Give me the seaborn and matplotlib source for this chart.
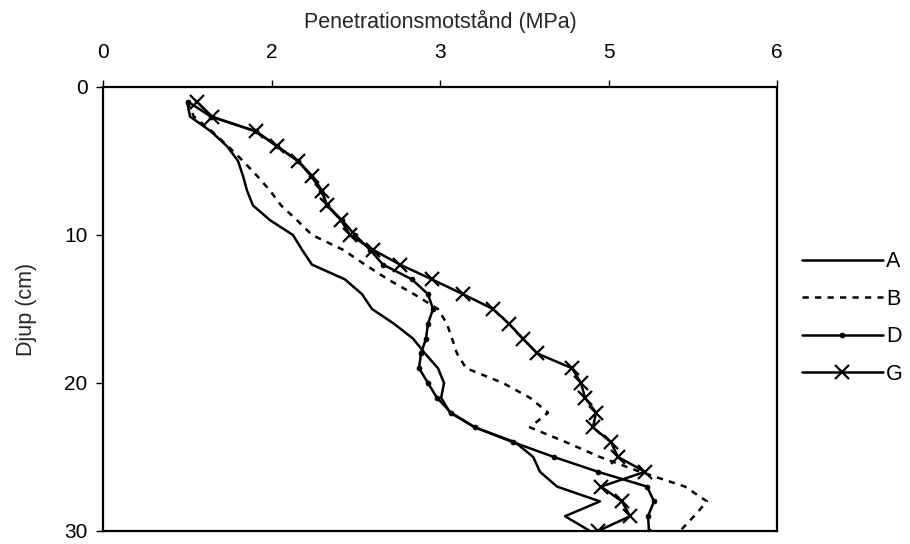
import matplotlib
matplotlib.use("Agg")
import matplotlib.pyplot as plt
import seaborn as sns
import pandas as pd

depth = list(range(1, 31))

A = [0.748, 0.775, 0.961, 1.104, 1.202, 1.246, 1.282, 1.335, 1.487, 1.691,
     1.772, 1.860, 2.154, 2.306, 2.395, 2.591, 2.760, 2.866, 2.982, 3.036,
     3.010, 3.089, 3.312, 3.668, 3.830, 3.890, 4.042, 4.424, 4.113, 4.335]
B = [0.748, 0.810, 0.970, 1.113, 1.246, 1.371, 1.487, 1.585, 1.727, 1.861,
     2.137, 2.332, 2.537, 2.769, 2.982, 3.062, 3.107, 3.151, 3.232, 3.561,
     3.801, 3.962, 3.801, 4.122, 4.424, 4.781, 5.181, 5.377, 5.261, 5.137]
D = [0.757, 0.961, 1.362, 1.549, 1.736, 1.852, 1.941, 1.994, 2.128, 2.243,
     2.377, 2.493, 2.751, 2.893, 2.938, 2.893, 2.875, 2.831, 2.813, 2.893,
     2.973, 3.098, 3.312, 3.650, 4.015, 4.407, 4.843, 4.905, 4.852, 4.861]
G = [0.837, 0.970, 1.362, 1.549, 1.736, 1.861, 1.950, 1.994, 2.119, 2.199,
     2.404, 2.644, 2.929, 3.205, 3.472, 3.614, 3.739, 3.864, 4.175, 4.255,
     4.291, 4.389, 4.362, 4.522, 4.585, 4.825, 4.433, 4.620, 4.692, 4.407]

x_ticks = [0, 1.5, 3, 4.5, 6]
x_tick_labels = ["0", "2", "3", "5", "6"]
y_ticks = [0, 10, 20, 30]

sns.set_style("ticks")
plt.rcParams["font.family"] = ["Liberation Sans", "DejaVu Sans"]

fig = plt.figure(figsize=(9.1, 5.44), dpi=100)
ax = fig.add_axes([103 / 910, 1 - 531 / 544, 674 / 910, 444 / 544])

lw = 1.8
styles = {
    "A": dict(color="black", linewidth=lw, linestyle="-"),
    "B": dict(color="black", linewidth=lw, linestyle=(0, (2.5, 2.5))),
    "D": dict(color="black", linewidth=lw, linestyle="-", marker="o",
              markersize=3.6, markeredgewidth=0.5, markeredgecolor="black",
              markerfacecolor="black"),
    "G": dict(color="black", linewidth=lw, linestyle="-", marker="x",
              markersize=10, markeredgewidth=1.6, markeredgecolor="black"),
}
series = {"A": A, "B": B, "D": D, "G": G}
for name, vals in series.items():
    df = pd.DataFrame({"x": vals, "y": depth})
    sns.lineplot(data=df, x="x", y="y", sort=False, estimator=None, ax=ax,
                 label=name, **styles[name])

ax.set_xlim(0, 6)
ax.set_ylim(30, 0)
ax.xaxis.tick_top()
ax.xaxis.set_label_position("top")
ax.set_xticks(x_ticks)
ax.set_xticklabels(x_tick_labels)
ax.set_yticks(y_ticks)
ax.tick_params(axis="both", direction="out", length=5, width=1, labelsize=15,
               color="black", labelcolor="black", pad=6)
ax.tick_params(axis="x", pad=13)
for s in ax.spines.values():
    s.set_linewidth(1.6)
    s.set_color("black")
    s.set_visible(True)

ax.set_xlabel("Penetrationsmotstånd (MPa)", fontsize=15.5, labelpad=11)
ax.set_ylabel("Djup (cm)", fontsize=15.5, labelpad=20)

leg = ax.legend(loc="center left", bbox_to_anchor=(802 / 910, 1 - 318 / 544),
                bbox_transform=fig.transFigure, frameon=False, fontsize=15.5,
                handlelength=3.75, handletextpad=0.15, labelspacing=0.76,
                borderpad=0, borderaxespad=0)
for t in leg.get_texts():
    t.set_color("black")

fig.savefig("out.png", dpi=100, facecolor="white")
